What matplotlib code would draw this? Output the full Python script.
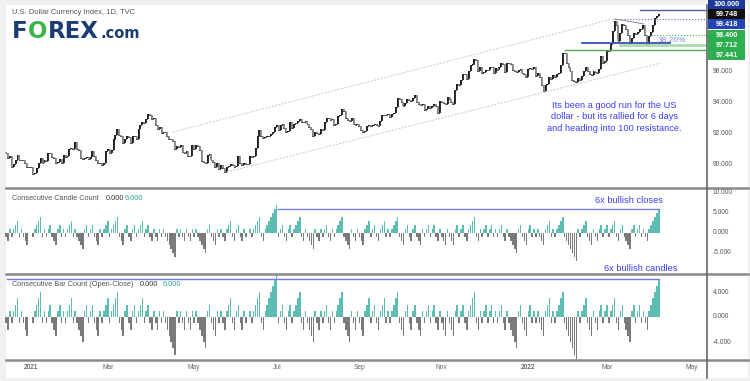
import matplotlib
matplotlib.use('Agg')
import matplotlib.pyplot as plt
from matplotlib.patches import Rectangle
from matplotlib.lines import Line2D
import numpy as np

# daily closes, U.S. Dollar Index, Dec 14 2020 -> Apr 7 2022
dec20 = [90.75, 90.45, 90.55, 89.85, 90.05, 90.35, 90.65, 90.30, 90.35, 90.30, 90.10, 89.90, 89.90]
jan21 = [89.90, 89.45, 89.50, 89.80, 90.10, 90.45, 90.10, 90.35, 90.25, 90.75,
         90.80, 90.50, 90.45, 90.10, 90.20, 90.40, 90.15, 90.65, 90.50, 90.55]
feb21 = [91.00, 91.10, 91.05, 91.50, 91.00, 90.95, 90.45, 90.40, 90.45, 90.50,
         90.40, 90.50, 90.90, 90.60, 90.35, 90.10, 90.15, 90.00, 90.15, 90.90]
mar21 = [91.05, 90.80, 90.95, 91.65, 91.95, 92.35, 91.95, 91.85, 91.40, 91.65, 91.85, 91.80,
         91.45, 91.85, 91.90, 91.70, 92.35, 92.55, 92.75, 92.70, 92.95, 93.30, 93.25]
apr21 = [92.95, 93.00, 92.55, 92.35, 92.45, 92.05, 92.15, 92.10, 91.85, 91.70, 91.65,
         91.55, 91.05, 91.20, 91.15, 91.30, 90.85, 90.80, 90.90, 90.60, 90.55, 91.30]
may21 = [91.00, 91.30, 91.25, 90.95, 90.25, 90.20, 90.15, 90.65, 90.70, 90.30, 90.20,
         89.85, 90.15, 89.75, 90.00, 89.80, 89.55, 89.90, 89.95, 90.05, 90.00]
jun21 = [89.85, 89.95, 90.55, 90.15, 90.00, 90.10, 90.05, 90.05, 90.55, 90.50, 90.55,
         91.10, 91.90, 92.25, 91.90, 91.75, 91.80, 91.85, 91.90, 92.00, 92.10, 92.45]
jul21 = [92.55, 92.25, 92.55, 92.65, 92.40, 92.15, 92.20, 92.75, 92.40, 92.65, 92.70,
         92.85, 92.95, 92.80, 92.75, 92.85, 92.65, 92.45, 92.30, 91.90, 92.15]
aug21 = [92.05, 92.00, 92.30, 92.25, 92.80, 93.05, 93.00, 92.90, 92.95, 92.55, 92.65,
         93.15, 93.25, 93.60, 93.50, 93.00, 92.90, 92.85, 93.05, 92.65, 92.60, 92.65]
sep21 = [92.50, 92.25, 92.15, 92.20, 92.50, 92.55, 92.50, 92.60, 92.65, 92.60, 92.50,
         92.85, 93.20, 93.25, 93.20, 93.30, 93.10, 93.30, 93.35, 93.75, 94.35, 94.25]
oct21 = [94.05, 93.80, 94.00, 94.25, 94.20, 94.10, 94.30, 94.50, 94.05, 93.95, 93.90,
         93.95, 93.55, 93.60, 93.80, 93.65, 93.80, 93.95, 93.80, 93.35, 94.10]
nov21 = [94.05, 94.00, 93.95, 94.40, 94.25, 94.05, 93.95, 94.85, 95.20, 95.15, 95.50,
         95.90, 95.85, 95.55, 96.05, 96.45, 96.50, 96.85, 96.80, 96.05, 96.35, 95.95]
dec21 = [96.00, 96.15, 96.10, 96.30, 96.35, 95.95, 96.25, 96.10, 96.30, 96.55, 96.50, 96.00,
         96.60, 96.55, 96.50, 96.10, 96.05, 96.00, 96.10, 96.20, 95.95, 95.90, 95.65]
jan22 = [96.20, 96.25, 96.20, 96.30, 95.75, 95.95, 95.65, 95.15, 94.80, 95.15, 95.25,
         95.70, 95.55, 95.80, 95.65, 95.90, 95.95, 96.45, 97.25, 97.20, 96.55]
feb22 = [96.35, 96.05, 95.45, 95.40, 95.35, 95.60, 95.50, 95.75, 96.05, 96.30,
         96.05, 95.85, 95.80, 96.05, 96.00, 95.95, 96.20, 97.05, 96.60, 96.70]
mar22 = [97.40, 97.35, 97.80, 98.65, 99.30, 99.05, 98.00, 98.50, 99.10, 99.00, 98.80, 98.40,
         97.90, 98.20, 98.50, 98.45, 98.60, 98.80, 98.75, 99.05, 98.40, 97.80, 98.30]
apr22 = [98.60, 99.00, 99.45, 99.60, 99.748]
first_open = 90.85
apr22_sessions = 21

months = [dec20, jan21, feb21, mar21, apr21, may21, jun21, jul21, aug21,
          sep21, oct21, nov21, dec21, jan22, feb22, mar22, apr22]
tick_months = [1, 3, 5, 7, 9, 11, 13, 15]
tick_labels = ['2021', 'Mar', 'May', 'Jul', 'Sep', 'Nov', '2022', 'Mar', 'May']

# chart annotations (price levels, trend channel)
levels = ['100.000', '99.748', '99.418', '98.400', '97.712', '97.441']
level_colors = ['#1c3a9c', '#111111', '#2444b4', '#2eae4e', '#2eae4e', '#2eae4e']
chan_upper = ([87, 316], [92.13, 99.42])
chan_lower = ([115, 341], [89.55, 96.58])
note = "Its been a good run for the US\ndollar - but its rallied for 6 days\nand heading into 100 resistance."

closes = np.array([c for m in months for c in m])
opens = np.concatenate([[first_open], closes[:-1]])
idx = np.arange(len(closes))
starts = np.cumsum([0] + [len(m) for m in months])
tick_pos = [starts[m] for m in tick_months] + [starts[16] + apr22_sessions]


def run_count(a, b):
    out, c = [], 0
    for x0, x1 in zip(a, b):
        if x1 > x0:
            c = c + 1 if c > 0 else 1
        elif x1 < x0:
            c = c - 1 if c < 0 else -1
        else:
            c = 0
        out.append(c)
    return np.array(out)


candle_count = run_count(np.concatenate([[first_open], closes[:-1]]), closes)
bar_count = run_count(opens, closes)

W, H = 750, 381
def fx(x): return x / W
def fy(y): return 1 - y / H

fig = plt.figure(figsize=(7.5, 3.81), dpi=100)
fig.patch.set_facecolor('#eef0f2')
fig.add_artist(Rectangle((fx(6), fy(378)), (748 - 6) / W, (378 - 5) / H,
                         transform=fig.transFigure, facecolor='white', edgecolor='none', zorder=0))

xl = (-0.54, 365.1)
ax1 = fig.add_axes([fx(5), fy(187), 702 / W, 182 / H])
ax2 = fig.add_axes([fx(5), fy(273), 702 / W, 84 / H])
ax3 = fig.add_axes([fx(5), fy(359), 702 / W, 84 / H])
for ax in (ax1, ax2, ax3):
    ax.set_xlim(*xl)
    ax.set_axis_off()
ax1.set_ylim(88.58, 100.32)
ax2.set_ylim(-10, 11)
ax3.set_ylim(-6.72, 6.72)

# price candles
up = closes >= opens
ax1.plot(idx, closes, drawstyle='steps-mid', color='#333333', lw=0.6)
ax1.vlines(idx[up], opens[up], closes[up], color='#1b1b1b', lw=1.3)
ax1.vlines(idx[~up], opens[~up], closes[~up], color='#8a8a8a', lw=1.3)

# channel
ax1.plot(*chan_upper, color='#c8c8c8', lw=0.7, ls=(0, (2, 1.5)))
ax1.plot(*chan_lower, color='#c8c8c8', lw=0.7, ls=(0, (2, 1.5)))

# levels
ax1.plot([330, xl[1]], [100.0, 100.0], color='#4a5db0', lw=1)
ax1.plot([317, xl[1]], [99.418, 99.418], color='#5b6bd0', lw=0.8, ls=':')
ax1.plot([317, 332], [99.42, 99.10], color='#8a8a8a', lw=0.7)
ax1.plot([336, xl[1]], [98.4, 98.4], color='#4caf50', lw=0.8, ls=':')
ax1.plot([320, xl[1]], [97.712, 97.712], color='#a8dbb0', lw=2)
ax1.plot([300, 346], [97.85, 97.85], color='#3a50b0', lw=1.3)
ax1.plot([291, xl[1]], [97.441, 97.441], color='#4caf50', lw=1)
ax1.text(347, 98.05, '38.20%', color='#7b8ae8', fontsize=6, family='Liberation Sans',
         ha='center', va='center')
ax1.text(317, 93.1, note, color='#3d3dff', fontsize=6.7, family='Liberation Sans',
         ha='center', va='center', linespacing=1.3)

# histograms
teal, grey = '#5dbdb2', '#7a7a7a'
ax2.bar(idx, candle_count, width=0.75, color=[teal if v > 0 else grey for v in candle_count], lw=0)
ax2.plot([141.6, idx[-1]], [6, 6], color='#6b7fe6', lw=1)
ax2.text(324.5, 8.1, '6x bullish closes', color='#3d3dff', fontsize=6.7,
         family='Liberation Sans', ha='center', va='center')
ax3.bar(idx, bar_count, width=0.75, color=[teal if v > 0 else grey for v in bar_count], lw=0)
ax3.plot([0.5, idx[-1]], [6.1, 6.1], color='#6b7fe6', lw=1)
ax2.text(330.5, -8.8, '6x bullish candles', color='#3d3dff', fontsize=6.7,
         family='Liberation Sans', ha='center', va='center')

# right scales
yax_x = (713 - 5) / 702
for ax, vals, lbls in [(ax1, [90, 92, 94, 96], ['90.000', '92.000', '94.000', '96.000']),
                       (ax2, [-5, 0, 5, 10], ['-5.000', '0.000', '5.000', '10.000']),
                       (ax3, [-4, 0, 4], ['-4.000', '0.000', '4.000'])]:
    for v, s in zip(vals, lbls):
        ax.text(yax_x, v, s, transform=ax.get_yaxis_transform(), fontsize=4.8,
                color='#555555', va='center', ha='left', family='Liberation Sans', clip_on=False)

# level boxes
box_y = [(0, 9), (9, 19), (19, 29), (30, 40), (40, 50), (50, 60)]
for (y0, y1), s, c in zip(box_y, levels, level_colors):
    fig.add_artist(Rectangle((fx(708), fy(y1)), 37 / W, (y1 - y0) / H,
                             transform=fig.transFigure, facecolor=c, edgecolor='none'))
    fig.text(fx(726.5), fy((y0 + y1) / 2 + 0.3), s, color='white', fontsize=5.2,
             ha='center', va='center', family='Liberation Sans', weight='bold')

# x labels
for p, s in zip(tick_pos, tick_labels):
    ax3.text(p, -0.106, s, transform=ax3.get_xaxis_transform(), ha='center', va='center',
             fontsize=4.8, family='Liberation Sans', clip_on=False,
             color='#333333' if s.startswith('20') else '#666666')

# frame lines
for y in (188, 274, 359.5):
    fig.add_artist(Line2D([fx(6), fx(748)], [fy(y), fy(y)], color='#8a8a8a', lw=1.8))
fig.add_artist(Line2D([fx(707), fx(707)], [fy(5), fy(378)], color='#666666', lw=1.2))

# titles
fig.text(fx(12), fy(12.5), 'U.S. Dollar Currency Index, 1D, TVC', fontsize=5.4,
         color='#555555', family='Liberation Sans', va='center')
for y, name, x0, x1 in [(198, 'Consecutive Candle Count', 106, 125),
                        (284.5, 'Consecutive Bar Count (Open-Close)', 140, 163)]:
    fig.text(fx(12), fy(y), name, fontsize=5.3, color='#555555', family='Liberation Sans', va='center')
    fig.text(fx(x0), fy(y), '0.000', fontsize=5.3, color='#333333', family='Liberation Sans', va='center')
    fig.text(fx(x1), fy(y), '6.000', fontsize=5.3, color='#26a69a', family='Liberation Sans', va='center')

# logo
navy, green = '#1b3c72', '#3bb54a'
fig.text(fx(12), fy(38), 'F', fontsize=16.5, color=navy, weight='bold', va='baseline')
fig.text(fx(27.5), fy(38), 'O', fontsize=16.5, color=green, weight='bold', va='baseline')
fig.text(fx(48), fy(38), 'REX', fontsize=16.5, color=navy, weight='bold', va='baseline')
fig.text(fx(100), fy(38), '.com', fontsize=10.5, color=navy, weight='bold', va='baseline')

fig.savefig('out.png', dpi=100, facecolor=fig.get_facecolor())
